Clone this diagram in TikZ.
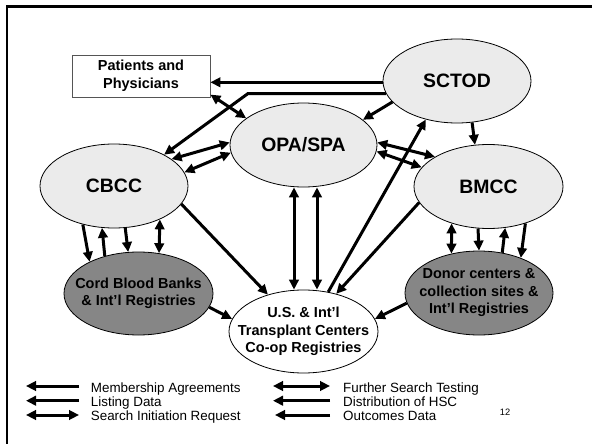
\documentclass[tikz,border=0pt]{standalone}
\usepackage{fontspec}
\setmainfont{Liberation Sans}
\usetikzlibrary{shapes.geometric,arrows.meta,calc}

\definecolor{ovallight}{HTML}{EBEBEB}
\definecolor{ovaldark}{HTML}{868686}
\definecolor{boxedge}{HTML}{555555}

\tikzset{
  oval/.style={ellipse, draw=black, line width=0.8pt, minimum width=148pt,
    minimum height=84pt, inner sep=0pt, fill=ovallight},
  bigtext/.style={font=\bfseries\fontsize{19.4}{22}\selectfont, inner sep=0pt},
  smalltext/.style={font=\bfseries\fontsize{14.5}{17.5}\selectfont, align=center, inner sep=0pt},
  tip/.tip={Triangle[length=10pt,width=9.5pt]},
  link/.style={line width=3pt, -tip},
  both/.style={line width=3pt, tip-tip},
  legtext/.style={anchor=base west, font=\fontsize{13.4}{14}\selectfont, inner sep=0pt}
}

\begin{document}
\begin{tikzpicture}[x=1pt,y=-1pt]
\useasboundingbox (0,0) rectangle (592,444);

% slide border
\draw[line width=2.4pt] (592,6.5) -- (7.2,6.5) -- (7.2,444);

% boxes and ovals
\node[draw=boxedge, line width=0.8pt, fill=white, minimum width=138pt, minimum height=42pt,
  smalltext] (pat) at (141,76) {Patients and\\Physicians};
\node[oval, label={[bigtext]center:SCTOD}] (sctod) at (457,81) {};
\node[oval, minimum width=147pt, label={[bigtext]center:OPA/SPA}] (opa) at (303.5,145) {};
\node[oval, label={[bigtext]center:CBCC}] (cbcc) at (114,186) {};
\node[oval, minimum width=149pt, label={[bigtext]center:BMCC}] (bmcc) at (488.5,186.5) {};
\node[oval, fill=ovaldark, minimum width=149pt, minimum height=83pt,
  label={[smalltext]center:{Cord Blood Banks\\\& Int'l Registries}}] (cord) at (138.5,293.5) {};
\node[oval, fill=ovaldark,
  label={[smalltext]center:{Donor centers \&\\collection sites \&\\Int'l Registries}}] (donor) at (479,293) {};
\node[oval, fill=white, minimum width=149pt, minimum height=83pt,
  label={[smalltext]center:{U.S. \& Int'l\\Transplant Centers\\Co-op Registries}}] (us) at (303.5,331.5) {};

% connectors between the parties
\coordinate (bend) at (248,93);
\draw[link] (sctod.181) -- (sctod.181 -| pat.east);
\draw[link, line join=miter] (sctod.190) -- (sctod.190 -| bend) -- (cbcc.32);
\draw[both] (pat.-15) -- (opa.155);
\draw[both] (cbcc.25) -- (opa.178);
\draw[both] (cbcc.11) -- (opa.186);
\draw[link] (sctod.198) -- (opa.23);
\draw[link] (sctod.-70) -- (bmcc.108);
\draw[both] (opa.2) -- (bmcc.151);
\draw[both] (opa.-5) -- (bmcc.164);
\draw[link] (us.58) -- (sctod.231);
\draw[link] (bmcc.193) -- (us.49);
\draw[both] ([xshift=-9.5pt]opa.south) -- ([xshift=-9.5pt]us.north);
\draw[both] ([xshift=13.5pt]opa.south) -- ([xshift=13.5pt]us.north);
\draw[link] (cbcc.-15) -- (us.134);
\draw[link] (cord.-11) -- (us.170);
\draw[link] (donor.188) -- (us.10);

% CBCC and cord blood banks
\draw[link] (cbcc.231) -- (cord.147.5);
\draw[link] (cord.132) -- (cbcc.254);
\draw[link] (cbcc.-75) -- (cord.104);
\draw[both] (cbcc.-36.5) -- (cord.63);

% BMCC and donor centers
\draw[both] (bmcc.225) -- (donor.125);
\draw[link] (bmcc.256) -- (donor.north);
\draw[link] (donor.60) -- (bmcc.-68);
\draw[link] (bmcc.-45) -- (donor.40);

% legend
\coordinate (l1a) at (26,386);    \coordinate (l1b) at (79,386);
\coordinate (l2a) at (26,400.7);  \coordinate (l2b) at (79,400.7);
\coordinate (l3a) at (26,415);    \coordinate (l3b) at (79,415);
\coordinate (r1a) at (273,386);   \coordinate (r1b) at (330,386);
\coordinate (r2a) at (273,400.7); \coordinate (r2b) at (330,400.7);
\coordinate (r3a) at (275,415);   \coordinate (r3b) at (330,415);
\draw[link] (l1b) -- (l1a);
\draw[link] (l2b) -- (l2a);
\draw[both] (l3a) -- (l3b);
\draw[both] (r1a) -- (r1b);
\draw[link] (r2b) -- (r2a);
\draw[link] (r3b) -- (r3a);

\node[legtext] (t1) at (90.7,392.7) {Membership Agreements};
\node[legtext] (t2) at (90.7,406.7) {Listing Data};
\node[legtext] (t3) at (90.7,420.7) {Search Initiation Request};
\node[legtext] (t4) at (343,392.7) {Further Search Testing};
\node[legtext] (t5) at (343,406.7) {Distribution of HSC};
\node[legtext] (t6) at (343,420.7) {Outcomes Data};

\node[anchor=base, font=\fontsize{9.3}{10}\selectfont, inner sep=0pt] (pg) at (505,415) {12};
\end{tikzpicture}
\end{document}
